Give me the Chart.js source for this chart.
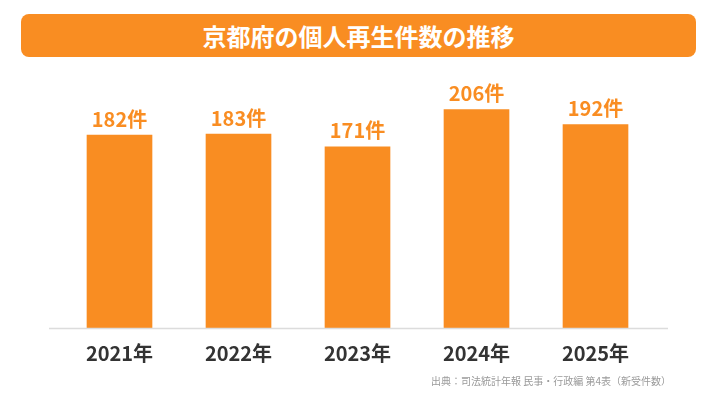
<!DOCTYPE html>
<html lang="ja">
<head>
<meta charset="utf-8">
<script src="https://cdn.jsdelivr.net/npm/chart.js@4"></script>
<style>
  html, body { margin: 0; padding: 0; background: #fff; }
  body { width: 716px; height: 403px; position: relative; overflow: hidden;
         font-family: "Noto Sans CJK JP", "Noto Sans", sans-serif; }
  #title { position: absolute; left: 21px; top: 14px; width: 675px; height: 43px;
           background: #f98d22; border-radius: 8px; color: #fff; font-weight: 700;
           font-size: 24px; line-height: 43px; text-align: center; }
  #source { position: absolute; right: 45px; top: 373px; font-size: 10px; color: #9a9a9a; }
  #wrap { position: absolute; left: 0; top: 0; width: 716px; height: 403px; }
</style>
</head>
<body>
<div id="wrap"><canvas id="chart"></canvas></div>
<div id="title">京都府の個人再生件数の推移</div>
<div id="source">出典：司法統計年報 民事・行政編 第4表（新受件数）</div>
<script>
// ---------------- Data ----------------
const years = ["2021年", "2022年", "2023年", "2024年", "2025年"];
const counts = [182, 183, 171, 206, 192];
const unit = "件";

const orange = "#f98d22";
const fontFamily = '"Noto Sans CJK JP", "Noto Sans", sans-serif';

// value labels on top of bars
const valueLabels = {
  id: "valueLabels",
  afterDatasetsDraw(chart) {
    const ctx = chart.ctx;
    const meta = chart.getDatasetMeta(0);
    ctx.save();
    ctx.fillStyle = orange;
    ctx.font = "700 20px " + fontFamily;
    ctx.textAlign = "center";
    ctx.textBaseline = "bottom";
    meta.data.forEach((bar, i) => {
      ctx.fillText(counts[i] + unit, bar.x, bar.y - 6);
    });
    ctx.restore();
  }
};

// baseline, a bit wider than the category band
const baseLine = {
  id: "baseLine",
  afterDatasetsDraw(chart) {
    const ctx = chart.ctx;
    const y = chart.scales.y.getPixelForValue(0);
    const { left, right } = chart.chartArea;
    ctx.save();
    ctx.strokeStyle = "#dcdcdc";
    ctx.lineWidth = 1.5;
    ctx.beginPath();
    ctx.moveTo(left - 11, y + 0.5);
    ctx.lineTo(right + 13, y + 0.5);
    ctx.stroke();
    ctx.restore();
  }
};

new Chart(document.getElementById("chart"), {
  type: "bar",
  data: {
    labels: years,
    datasets: [{
      data: counts,
      backgroundColor: orange,
      borderWidth: 0,
      barThickness: 65
    }]
  },
  options: {
    responsive: true,
    maintainAspectRatio: false,
    animation: false,
    layout: { padding: { left: 60, right: 61, top: 63, bottom: 33 } },
    plugins: { legend: { display: false }, tooltip: { enabled: false } },
    scales: {
      y: { display: false, min: 0, max: 250 },
      x: {
        grid: { display: false },
        border: { display: false },
        ticks: {
          color: "#333333",
          padding: 5,
          font: { family: fontFamily, size: 20, weight: "700" }
        }
      }
    }
  },
  plugins: [valueLabels, baseLine]
});
</script>
</body>
</html>
